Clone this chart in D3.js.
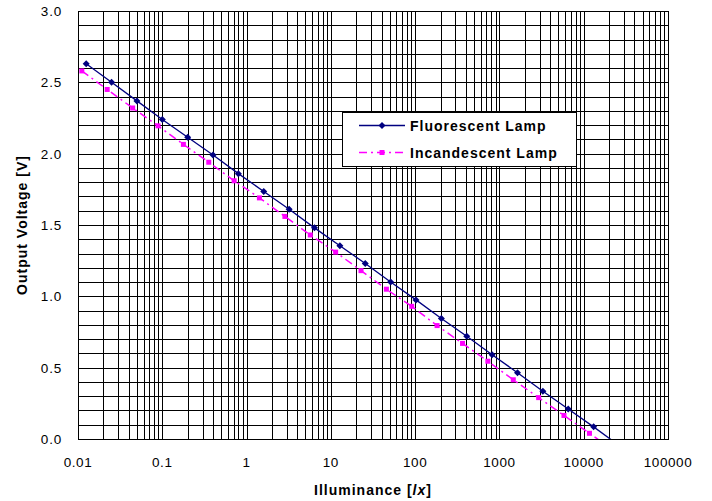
<!DOCTYPE html>
<html>
<head>
<meta charset="utf-8">
<script src="https://cdn.jsdelivr.net/npm/d3@7"></script>
<style>
  body { margin: 0; background: #fff; }
  text { font-family: "Liberation Sans", Arial, sans-serif; }
</style>
</head>
<body>
<div id="chart"></div>
<script>
// illuminance steps for each lamp (lx)
var fluoLux = [0.0125, 0.025, 0.05, 0.1, 0.2, 0.4, 0.8, 1.6, 3.2, 6.4, 12.8, 25.6,
               51.2, 102.4, 204.8, 409.6, 819.2, 1638.4, 3276.8, 6553.6, 13107, 26214]
var fluoVolt = [2.63, 2.50, 2.37, 2.24, 2.115, 1.99, 1.86, 1.735, 1.61, 1.48, 1.355, 1.23,
                1.10, 0.975, 0.845, 0.72, 0.59, 0.465, 0.335, 0.21, 0.085, -0.045]
var incLux = [0.0111, 0.0222, 0.0445, 0.089, 0.178, 0.356, 0.712, 1.42, 2.85, 5.7, 11.4, 22.8,
              45.6, 91.1, 182, 365, 729, 1460, 2920, 5830, 11700, 23300]
var incVolt = [2.58, 2.45, 2.32, 2.195, 2.065, 1.94, 1.81, 1.69, 1.56, 1.43, 1.31, 1.18,
               1.05, 0.93, 0.795, 0.67, 0.545, 0.415, 0.29, 0.165, 0.04, -0.085]
var xTicks = [0.01, 0.1, 1, 10, 100, 1000, 10000, 100000]
var yTicks = [0, 0.5, 1.0, 1.5, 2.0, 2.5, 3.0]
var seriesNames = ["Fluorescent Lamp", "Incandescent Lamp"]

var W = 712, H = 501
var pL = 78, pR = 668, pT = 11, pB = 439

var svg = d3.select("#chart").append("svg")
  .attr("width", W)
  .attr("height", H)

var x = d3.scaleLog().domain([0.01, 100000]).range([pL, pR])
var y = d3.scaleLinear().domain([0, 3]).range([pB, pT])

function px(v){ return Math.round(v) + 0.5 }

// minor grid : 1..9 per decade, every 0.1 V
var xGrid = []
for (var e = -2; e < 5; e++){
  for (var m = 1; m < 10; m++) xGrid.push(m * Math.pow(10, e))
}
var yGrid = d3.range(0, 31).map(function(i){ return i / 10 })

svg.append("g").selectAll("line").data(xGrid).enter().append("line")
  .attr("x1", function(d){ return px(x(d)) }).attr("x2", function(d){ return px(x(d)) })
  .attr("y1", pT).attr("y2", pB)
  .attr("stroke", "#000").attr("stroke-width", 1)

svg.append("g").selectAll("line").data(yGrid).enter().append("line")
  .attr("x1", pL).attr("x2", pR)
  .attr("y1", function(d){ return px(y(d)) }).attr("y2", function(d){ return px(y(d)) })
  .attr("stroke", "#000").attr("stroke-width", 1)

svg.append("rect")
  .attr("x", px(pL)).attr("y", px(pT))
  .attr("width", Math.round(pR - pL)).attr("height", Math.round(pB - pT))
  .attr("fill", "none").attr("stroke", "#000")

// tick labels
svg.append("g").selectAll("text").data(xTicks).enter().append("text")
  .attr("x", function(d){ return x(d) })
  .attr("y", 467)
  .attr("text-anchor", "middle")
  .style("font-size", "13.5px").style("letter-spacing", "0.6px")
  .text(function(d){ return String(d) })

svg.append("g").selectAll("text").data(yTicks).enter().append("text")
  .attr("x", 62)
  .attr("y", function(d){ return y(d) + 5 })
  .attr("text-anchor", "end")
  .style("font-size", "13.5px").style("letter-spacing", "0.8px")
  .text(function(d){ return d.toFixed(1) })

// axis titles
var xt = svg.append("text")
  .attr("x", (pL + pR) / 2)
  .attr("y", 495)
  .attr("text-anchor", "middle")
  .style("font-size", "14px").style("font-weight", "bold").style("letter-spacing", "1px")
xt.append("tspan").text("Illuminance [")
xt.append("tspan").style("font-style", "italic").text("lx")
xt.append("tspan").text("]")

svg.append("text")
  .attr("transform", "translate(27," + ((pT + pB) / 2) + ") rotate(-90)")
  .attr("text-anchor", "middle")
  .style("font-size", "14px").style("font-weight", "bold").style("letter-spacing", "1px")
  .text("Output Voltage [V]")

// series
svg.append("clipPath").attr("id", "plotClip")
  .append("rect").attr("x", pL).attr("y", pT)
  .attr("width", pR - pL).attr("height", pB - pT)

var fluoData = fluoLux.map(function(d, i){ return {lux: d, v: fluoVolt[i]} })
var incData = incLux.map(function(d, i){ return {lux: d, v: incVolt[i]} })

var line = d3.line()
  .x(function(d){ return x(d.lux) })
  .y(function(d){ return y(d.v) })

var plot = svg.append("g").attr("clip-path", "url(#plotClip)")

plot.append("path")
  .datum(incData)
  .attr("fill", "none")
  .attr("stroke", "#ff00ff")
  .attr("stroke-width", 1.5)
  .attr("stroke-dasharray", "8,4,2,4")
  .attr("d", line)

plot.selectAll(".sq").data(incData).enter().append("rect")
  .attr("x", function(d){ return x(d.lux) - 2.5 })
  .attr("y", function(d){ return y(d.v) - 2.5 })
  .attr("width", 5).attr("height", 5)
  .attr("fill", "#ff00ff")

plot.append("path")
  .datum(fluoData)
  .attr("fill", "none")
  .attr("stroke", "#000080")
  .attr("stroke-width", 1.3)
  .attr("d", line)

var diamond = "M0,-3.5L3.5,0L0,3.5L-3.5,0Z"
plot.selectAll(".dm").data(fluoData).enter().append("path")
  .attr("transform", function(d){ return "translate(" + x(d.lux) + "," + y(d.v) + ")" })
  .attr("d", diamond)
  .attr("fill", "#000080")

// legend
var lg = svg.append("g")
lg.append("rect")
  .attr("x", 342.5).attr("y", 112.5).attr("width", 234).attr("height", 54)
  .attr("fill", "#fff").attr("stroke", "#000")

lg.append("line").attr("x1", 359).attr("x2", 405).attr("y1", 125.5).attr("y2", 125.5)
  .attr("stroke", "#000080").attr("stroke-width", 1.3)
lg.append("path").attr("transform", "translate(382,125.5)").attr("d", diamond).attr("fill", "#000080")

lg.append("line").attr("x1", 359).attr("x2", 405).attr("y1", 152.5).attr("y2", 152.5)
  .attr("stroke", "#ff00ff").attr("stroke-width", 1.5).attr("stroke-dasharray", "8,4,2,4")
lg.append("rect").attr("x", 379.5).attr("y", 150).attr("width", 5).attr("height", 5).attr("fill", "#ff00ff")

lg.selectAll("text").data(seriesNames).enter().append("text")
  .attr("x", 410)
  .attr("y", function(d, i){ return 130.5 + i * 27 })
  .style("font-size", "14px").style("font-weight", "bold").style("letter-spacing", "1px")
  .text(function(d){ return d })
</script>
</body>
</html>
